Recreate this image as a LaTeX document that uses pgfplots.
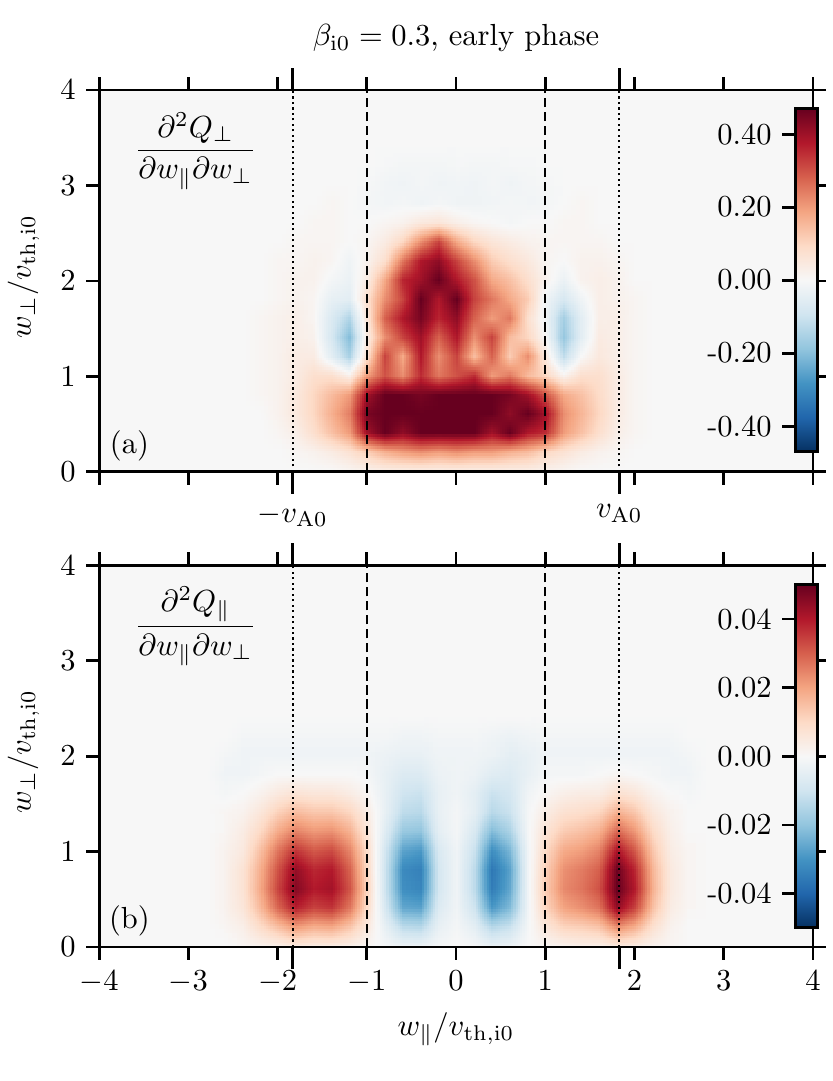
\documentclass[border=0pt]{standalone}
\usepackage{pgfplots}
\pgfplotsset{compat=1.18}
\usepgfplotslibrary{patchplots}
\pgfplotsset{colormap={rdbu}{rgb255=(5,48,97) rgb255=(33,102,172) rgb255=(67,147,195) rgb255=(146,197,222) rgb255=(209,229,240) rgb255=(247,247,247) rgb255=(253,219,199) rgb255=(244,165,130) rgb255=(214,96,77) rgb255=(178,24,43) rgb255=(103,0,31)}}
\definecolor{bgzero}{RGB}{247,247,247}
\pgfplotsset{
  panel/.style={
    width=234pt, height=125.2pt, scale only axis,
    xmin=-4, xmax=4, ymin=0, ymax=4,
    enlargelimits=false,
    xtick={-4,-3,-2,-1,0,1,2,3,4},
    ytick={0,1,2,3,4},
    tick pos=both, tick align=outside,
    major tick length=4.2pt,
    every tick/.style={black, line width=0.9pt},
    axis line style={line width=0.9pt},
    axis background/.style={fill=bgzero},
    axis on top,
    colormap name=rdbu,
    ylabel={$w_\perp/v_{\mathrm{th,i0}}$},
    ylabel style={xshift=1.5pt},
    extra x ticks={-1.83,1.83},
    extra x tick style={major tick length=7.2pt},
    colorbar,
  },
  cbar/.style={at={(parent axis.south west)}, anchor=south west,
    xshift=219.7pt, width=7.2pt, height=112.5pt, scale only axis,
    scaled y ticks=false,
    ytick pos=left, yticklabel pos=left, tick align=outside, major tick length=4.2pt,
    every tick/.style={black, line width=0.9pt},
    axis line style={line width=1pt}},
  dashv/.style={black, line width=0.7pt, dash pattern=on 3pt off 1.6pt},
  dotv/.style={black, line width=0.7pt, dash pattern=on 0.7pt off 1.1pt},
}
\begin{document}
\begin{tikzpicture}
\path[use as bounding box] (0,0) rectangle (272.8pt,354.4pt);
% ---------------- panel (a)
\begin{axis}[panel, name=top, at={(32.5pt,199.7pt)}, anchor=south west,
  xticklabels={},
  extra x tick labels={$-v_{\mathrm{A0}}$,$v_{\mathrm{A0}}$},
  point meta min=-0.47, point meta max=0.47,
  colorbar style={cbar, yshift=6.6pt,
    ytick={-0.4,-0.2,0,0.2,0.4}, yticklabels={-0.40,-0.20,0.00,0.20,0.40}},
]
\addplot[surf, shader=interp, patch type=bilinear, mesh/cols=25, point meta=explicit] coordinates {
(-2.4,0)[0] (-2.2,0)[0] (-2.0,0)[0] (-1.8,0)[0] (-1.6,0)[0] (-1.4,0)[0] (-1.2,0)[0.01] (-1.0,0)[0.02] (-0.8,0)[0.03] (-0.6,0)[0.03] (-0.4,0)[0.03] (-0.2,0)[0.03] (0,0)[0.03] (0.2,0)[0.03] (0.4,0)[0.03] (0.6,0)[0.03] (0.8,0)[0.03] (1.0,0)[0.02] (1.2,0)[0.01] (1.4,0)[0] (1.6,0)[0] (1.8,0)[0] (2.0,0)[0] (2.2,0)[0] (2.4,0)[0]

(-2.4,0.2)[0] (-2.2,0.2)[0] (-2.0,0.2)[0] (-1.8,0.2)[0.01] (-1.6,0.2)[0.02] (-1.4,0.2)[0.04] (-1.2,0.2)[0.07] (-1.0,0.2)[0.12] (-0.8,0.2)[0.17] (-0.6,0.2)[0.2] (-0.4,0.2)[0.22] (-0.2,0.2)[0.2] (0,0.2)[0.22] (0.2,0.2)[0.2] (0.4,0.2)[0.2] (0.6,0.2)[0.17] (0.8,0.2)[0.15] (1.0,0.2)[0.1] (1.2,0.2)[0.07] (1.4,0.2)[0.04] (1.6,0.2)[0.02] (1.8,0.2)[0.01] (2.0,0.2)[0] (2.2,0.2)[0] (2.4,0.2)[0]

(-2.4,0.4)[0] (-2.2,0.4)[0] (-2.0,0.4)[0.01] (-1.8,0.4)[0.03] (-1.6,0.4)[0.08] (-1.4,0.4)[0.14] (-1.2,0.4)[0.2] (-1.0,0.4)[0.4] (-0.8,0.4)[0.5] (-0.6,0.4)[0.42] (-0.4,0.4)[0.6] (-0.2,0.4)[0.48] (0,0.4)[0.6] (0.2,0.4)[0.5] (0.4,0.4)[0.4] (0.6,0.4)[0.5] (0.8,0.4)[0.38] (1.0,0.4)[0.35] (1.2,0.4)[0.2] (1.4,0.4)[0.14] (1.6,0.4)[0.08] (1.8,0.4)[0.03] (2.0,0.4)[0.01] (2.2,0.4)[0] (2.4,0.4)[0]

(-2.4,0.6)[0] (-2.2,0.6)[0] (-2.0,0.6)[0.02] (-1.8,0.6)[0.05] (-1.6,0.6)[0.1] (-1.4,0.6)[0.17] (-1.2,0.6)[0.24] (-1.0,0.6)[0.45] (-0.8,0.6)[0.6] (-0.6,0.6)[0.5] (-0.4,0.6)[0.65] (-0.2,0.6)[0.55] (0,0.6)[0.6] (0.2,0.6)[0.65] (0.4,0.6)[0.5] (0.6,0.6)[0.42] (0.8,0.6)[0.55] (1.0,0.6)[0.4] (1.2,0.6)[0.22] (1.4,0.6)[0.16] (1.6,0.6)[0.1] (1.8,0.6)[0.04] (2.0,0.6)[0.01] (2.2,0.6)[0] (2.4,0.6)[0]

(-2.4,0.8)[0] (-2.2,0.8)[0.01] (-2.0,0.8)[0.02] (-1.8,0.8)[0.05] (-1.6,0.8)[0.1] (-1.4,0.8)[0.15] (-1.2,0.8)[0.2] (-1.0,0.8)[0.4] (-0.8,0.8)[0.5] (-0.6,0.8)[0.6] (-0.4,0.8)[0.45] (-0.2,0.8)[0.6] (0,0.8)[0.5] (0.2,0.8)[0.55] (0.4,0.8)[0.6] (0.6,0.8)[0.45] (0.8,0.8)[0.4] (1.0,0.8)[0.3] (1.2,0.8)[0.18] (1.4,0.8)[0.14] (1.6,0.8)[0.09] (1.8,0.8)[0.04] (2.0,0.8)[0.01] (2.2,0.8)[0] (2.4,0.8)[0]

(-2.4,1.0)[0] (-2.2,1.0)[0.01] (-2.0,1.0)[0.02] (-1.8,1.0)[0.04] (-1.6,1.0)[0.08] (-1.4,1.0)[0.08] (-1.2,1.0)[0.03] (-1.0,1.0)[0.2] (-0.8,1.0)[0.3] (-0.6,1.0)[0.22] (-0.4,1.0)[0.35] (-0.2,1.0)[0.25] (0,1.0)[0.3] (0.2,1.0)[0.35] (0.4,1.0)[0.2] (0.6,1.0)[0.25] (0.8,1.0)[0.15] (1.0,1.0)[0.1] (1.2,1.0)[0.02] (1.4,1.0)[0.08] (1.6,1.0)[0.08] (1.8,1.0)[0.04] (2.0,1.0)[0.01] (2.2,1.0)[0] (2.4,1.0)[0]

(-2.4,1.2)[0] (-2.2,1.2)[0.01] (-2.0,1.2)[0.02] (-1.8,1.2)[0.04] (-1.6,1.2)[0.04] (-1.4,1.2)[-0.05] (-1.2,1.2)[-0.15] (-1.0,1.2)[0.08] (-0.8,1.2)[0.32] (-0.6,1.2)[0.18] (-0.4,1.2)[0.38] (-0.2,1.2)[0.22] (0,1.2)[0.32] (0.2,1.2)[0.15] (0.4,1.2)[0.28] (0.6,1.2)[0.12] (0.8,1.2)[0.22] (1.0,1.2)[0.05] (1.2,1.2)[-0.12] (1.4,1.2)[0.0] (1.6,1.2)[0.05] (1.8,1.2)[0.03] (2.0,1.2)[0.01] (2.2,1.2)[0] (2.4,1.2)[0]

(-2.4,1.4)[0] (-2.2,1.4)[0.01] (-2.0,1.4)[0.02] (-1.8,1.4)[0.03] (-1.6,1.4)[0.02] (-1.4,1.4)[-0.08] (-1.2,1.4)[-0.2] (-1.0,1.4)[0.04] (-0.8,1.4)[0.22] (-0.6,1.4)[0.32] (-0.4,1.4)[0.4] (-0.2,1.4)[0.28] (0,1.4)[0.38] (0.2,1.4)[0.22] (0.4,1.4)[0.32] (0.6,1.4)[0.15] (0.8,1.4)[0.1] (1.0,1.4)[0.0] (1.2,1.4)[-0.18] (1.4,1.4)[-0.05] (1.6,1.4)[0.04] (1.8,1.4)[0.03] (2.0,1.4)[0.01] (2.2,1.4)[0] (2.4,1.4)[0]

(-2.4,1.6)[0] (-2.2,1.6)[0.01] (-2.0,1.6)[0.02] (-1.8,1.6)[0.03] (-1.6,1.6)[0.01] (-1.4,1.6)[-0.07] (-1.2,1.6)[-0.14] (-1.0,1.6)[0.06] (-0.8,1.6)[0.28] (-0.6,1.6)[0.38] (-0.4,1.6)[0.45] (-0.2,1.6)[0.36] (0,1.6)[0.42] (0.2,1.6)[0.28] (0.4,1.6)[0.2] (0.6,1.6)[0.25] (0.8,1.6)[0.08] (1.0,1.6)[-0.02] (1.2,1.6)[-0.16] (1.4,1.6)[-0.05] (1.6,1.6)[0.03] (1.8,1.6)[0.03] (2.0,1.6)[0.01] (2.2,1.6)[0] (2.4,1.6)[0]

(-2.4,1.8)[0] (-2.2,1.8)[0] (-2.0,1.8)[0.01] (-1.8,1.8)[0.02] (-1.6,1.8)[0.01] (-1.4,1.8)[-0.04] (-1.2,1.8)[-0.05] (-1.0,1.8)[0.08] (-0.8,1.8)[0.22] (-0.6,1.8)[0.32] (-0.4,1.8)[0.48] (-0.2,1.8)[0.38] (0,1.8)[0.52] (0.2,1.8)[0.32] (0.4,1.8)[0.25] (0.6,1.8)[0.18] (0.8,1.8)[0.12] (1.0,1.8)[-0.02] (1.2,1.8)[-0.08] (1.4,1.8)[-0.02] (1.6,1.8)[0.03] (1.8,1.8)[0.02] (2.0,1.8)[0.01] (2.2,1.8)[0] (2.4,1.8)[0]

(-2.4,2.0)[0] (-2.2,2.0)[0] (-2.0,2.0)[0.01] (-1.8,2.0)[0.02] (-1.6,2.0)[0.02] (-1.4,2.0)[-0.01] (-1.2,2.0)[-0.03] (-1.0,2.0)[0.04] (-0.8,2.0)[0.18] (-0.6,2.0)[0.36] (-0.4,2.0)[0.4] (-0.2,2.0)[0.5] (0,2.0)[0.38] (0.2,2.0)[0.3] (0.4,2.0)[0.18] (0.6,2.0)[0.14] (0.8,2.0)[0.08] (1.0,2.0)[0.02] (1.2,2.0)[-0.03] (1.4,2.0)[0.02] (1.6,2.0)[0.03] (1.8,2.0)[0.02] (2.0,2.0)[0] (2.2,2.0)[0] (2.4,2.0)[0]

(-2.4,2.2)[0] (-2.2,2.2)[0] (-2.0,2.2)[0.01] (-1.8,2.2)[0.01] (-1.6,2.2)[0.02] (-1.4,2.2)[0.01] (-1.2,2.2)[-0.02] (-1.0,2.2)[0.02] (-0.8,2.2)[0.08] (-0.6,2.2)[0.25] (-0.4,2.2)[0.38] (-0.2,2.2)[0.42] (0,2.2)[0.32] (0.2,2.2)[0.22] (0.4,2.2)[0.12] (0.6,2.2)[0.08] (0.8,2.2)[0.05] (1.0,2.2)[0.01] (1.2,2.2)[0] (1.4,2.2)[0.02] (1.6,2.2)[0.02] (1.8,2.2)[0.01] (2.0,2.2)[0] (2.2,2.2)[0] (2.4,2.2)[0]

(-2.4,2.4)[0] (-2.2,2.4)[0] (-2.0,2.4)[0] (-1.8,2.4)[0.01] (-1.6,2.4)[0.01] (-1.4,2.4)[0.01] (-1.2,2.4)[0] (-1.0,2.4)[0.01] (-0.8,2.4)[0.04] (-0.6,2.4)[0.1] (-0.4,2.4)[0.22] (-0.2,2.4)[0.32] (0,2.4)[0.18] (0.2,2.4)[0.1] (0.4,2.4)[0.06] (0.6,2.4)[0.04] (0.8,2.4)[0.02] (1.0,2.4)[0.01] (1.2,2.4)[0.01] (1.4,2.4)[0.01] (1.6,2.4)[0.01] (1.8,2.4)[0] (2.0,2.4)[0] (2.2,2.4)[0] (2.4,2.4)[0]

(-2.4,2.6)[0] (-2.2,2.6)[0] (-2.0,2.6)[0] (-1.8,2.6)[0] (-1.6,2.6)[0.01] (-1.4,2.6)[0.01] (-1.2,2.6)[0] (-1.0,2.6)[0] (-0.8,2.6)[0.01] (-0.6,2.6)[0.02] (-0.4,2.6)[0.05] (-0.2,2.6)[0.06] (0,2.6)[0.03] (0.2,2.6)[0.01] (0.4,2.6)[0] (0.6,2.6)[-0.01] (0.8,2.6)[0] (1.0,2.6)[0] (1.2,2.6)[0.01] (1.4,2.6)[0.01] (1.6,2.6)[0] (1.8,2.6)[0] (2.0,2.6)[0] (2.2,2.6)[0] (2.4,2.6)[0]

(-2.4,2.8)[0] (-2.2,2.8)[0] (-2.0,2.8)[0] (-1.8,2.8)[0] (-1.6,2.8)[0] (-1.4,2.8)[0.01] (-1.2,2.8)[0] (-1.0,2.8)[-0.01] (-0.8,2.8)[-0.015] (-0.6,2.8)[-0.01] (-0.4,2.8)[-0.02] (-0.2,2.8)[-0.01] (0,2.8)[-0.02] (0.2,2.8)[-0.02] (0.4,2.8)[-0.015] (0.6,2.8)[-0.01] (0.8,2.8)[-0.015] (1.0,2.8)[-0.01] (1.2,2.8)[0] (1.4,2.8)[0.01] (1.6,2.8)[0] (1.8,2.8)[0] (2.0,2.8)[0] (2.2,2.8)[0] (2.4,2.8)[0]

(-2.4,3.0)[0] (-2.2,3.0)[0] (-2.0,3.0)[0] (-1.8,3.0)[0] (-1.6,3.0)[0] (-1.4,3.0)[0] (-1.2,3.0)[0] (-1.0,3.0)[-0.005] (-0.8,3.0)[-0.015] (-0.6,3.0)[-0.02] (-0.4,3.0)[-0.01] (-0.2,3.0)[-0.02] (0,3.0)[-0.015] (0.2,3.0)[-0.02] (0.4,3.0)[-0.01] (0.6,3.0)[-0.02] (0.8,3.0)[-0.01] (1.0,3.0)[-0.005] (1.2,3.0)[0] (1.4,3.0)[0] (1.6,3.0)[0] (1.8,3.0)[0] (2.0,3.0)[0] (2.2,3.0)[0] (2.4,3.0)[0]

(-2.4,3.2)[0] (-2.2,3.2)[0] (-2.0,3.2)[0] (-1.8,3.2)[0] (-1.6,3.2)[0] (-1.4,3.2)[0] (-1.2,3.2)[0] (-1.0,3.2)[0] (-0.8,3.2)[-0.005] (-0.6,3.2)[-0.01] (-0.4,3.2)[-0.01] (-0.2,3.2)[-0.01] (0,3.2)[-0.005] (0.2,3.2)[-0.01] (0.4,3.2)[-0.01] (0.6,3.2)[-0.005] (0.8,3.2)[-0.005] (1.0,3.2)[0] (1.2,3.2)[0] (1.4,3.2)[0] (1.6,3.2)[0] (1.8,3.2)[0] (2.0,3.2)[0] (2.2,3.2)[0] (2.4,3.2)[0]

(-2.4,3.4)[0] (-2.2,3.4)[0] (-2.0,3.4)[0] (-1.8,3.4)[0] (-1.6,3.4)[0] (-1.4,3.4)[0] (-1.2,3.4)[0] (-1.0,3.4)[0] (-0.8,3.4)[0] (-0.6,3.4)[0] (-0.4,3.4)[0] (-0.2,3.4)[0] (0,3.4)[0] (0.2,3.4)[0] (0.4,3.4)[0] (0.6,3.4)[0] (0.8,3.4)[0] (1.0,3.4)[0] (1.2,3.4)[0] (1.4,3.4)[0] (1.6,3.4)[0] (1.8,3.4)[0] (2.0,3.4)[0] (2.2,3.4)[0] (2.4,3.4)[0]
};
\addplot[dotv] coordinates {(-1.83,0) (-1.83,4)};
\addplot[dotv] coordinates {(1.83,0) (1.83,4)};
\addplot[dashv] coordinates {(-1,0) (-1,4)};
\addplot[dashv] coordinates {(1,0) (1,4)};
\node at (axis cs:-2.92,3.36) {$\displaystyle\frac{\partial^2 Q_\perp}{\partial w_\parallel\partial w_\perp}$};
\node at (axis cs:-3.66,0.27) {(a)};
\end{axis}
% ---------------- panel (b)
\begin{axis}[panel, name=bot, at={(32.5pt,43.9pt)}, anchor=south west,
  xlabel={$w_\parallel/v_{\mathrm{th,i0}}$},
  xlabel style={at={(axis description cs:0.5,0)}, anchor=center, yshift=-27pt},
  extra x tick labels={},
  point meta min=-0.05, point meta max=0.05,
  colorbar style={cbar, yshift=6.3pt,
    ytick={-0.04,-0.02,0,0.02,0.04}, yticklabels={-0.04,-0.02,0.00,0.02,0.04}},
]
\addplot[surf, shader=interp, patch type=bilinear, mesh/cols=29, point meta=explicit] coordinates {
(-2.8,0)[0] (-2.6,0)[0] (-2.4,0)[0.001] (-2.2,0)[0.002] (-2.0,0)[0.003] (-1.8,0)[0.005] (-1.6,0)[0.004] (-1.4,0)[0.004] (-1.2,0)[0.003] (-1.0,0)[0.001] (-0.8,0)[-0.001] (-0.6,0)[-0.003] (-0.4,0)[-0.003] (-0.2,0)[-0.001] (0,0)[0] (0.2,0)[-0.001] (0.4,0)[-0.004] (0.6,0)[-0.003] (0.8,0)[0] (1.0,0)[0.001] (1.2,0)[0.002] (1.4,0)[0.003] (1.6,0)[0.003] (1.8,0)[0.005] (2.0,0)[0.004] (2.2,0)[0.002] (2.4,0)[0.001] (2.6,0)[0] (2.8,0)[0]

(-2.8,0.2)[0] (-2.6,0.2)[0.001] (-2.4,0.2)[0.003] (-2.2,0.2)[0.009] (-2.0,0.2)[0.015] (-1.8,0.2)[0.021] (-1.6,0.2)[0.018] (-1.4,0.2)[0.019] (-1.2,0.2)[0.014] (-1.0,0.2)[0.005] (-0.8,0.2)[-0.004] (-0.6,0.2)[-0.013] (-0.4,0.2)[-0.014] (-0.2,0.2)[-0.004] (0,0.2)[-0.001] (0.2,0.2)[-0.005] (0.4,0.2)[-0.014] (0.6,0.2)[-0.011] (0.8,0.2)[-0.001] (1.0,0.2)[0.006] (1.2,0.2)[0.011] (1.4,0.2)[0.012] (1.6,0.2)[0.014] (1.8,0.2)[0.023] (2.0,0.2)[0.018] (2.2,0.2)[0.008] (2.4,0.2)[0.002] (2.6,0.2)[0] (2.8,0.2)[0]

(-2.8,0.4)[0] (-2.6,0.4)[0.002] (-2.4,0.4)[0.006] (-2.2,0.4)[0.016] (-2.0,0.4)[0.029] (-1.8,0.4)[0.039] (-1.6,0.4)[0.034] (-1.4,0.4)[0.036] (-1.2,0.4)[0.027] (-1.0,0.4)[0.009] (-0.8,0.4)[-0.008] (-0.6,0.4)[-0.026] (-0.4,0.4)[-0.027] (-0.2,0.4)[-0.007] (0,0.4)[-0.002] (0.2,0.4)[-0.010] (0.4,0.4)[-0.029] (0.6,0.4)[-0.022] (0.8,0.4)[-0.002] (1.0,0.4)[0.011] (1.2,0.4)[0.020] (1.4,0.4)[0.023] (1.6,0.4)[0.027] (1.8,0.4)[0.044] (2.0,0.4)[0.034] (2.2,0.4)[0.015] (2.4,0.4)[0.004] (2.6,0.4)[0.001] (2.8,0.4)[0]

(-2.8,0.6)[0] (-2.6,0.6)[0.002] (-2.4,0.6)[0.007] (-2.2,0.6)[0.019] (-2.0,0.6)[0.034] (-1.8,0.6)[0.046] (-1.6,0.6)[0.040] (-1.4,0.6)[0.042] (-1.2,0.6)[0.032] (-1.0,0.6)[0.011] (-0.8,0.6)[-0.010] (-0.6,0.6)[-0.031] (-0.4,0.6)[-0.033] (-0.2,0.6)[-0.009] (0,0.6)[-0.002] (0.2,0.6)[-0.013] (0.4,0.6)[-0.035] (0.6,0.6)[-0.026] (0.8,0.6)[-0.002] (1.0,0.6)[0.013] (1.2,0.6)[0.024] (1.4,0.6)[0.027] (1.6,0.6)[0.032] (1.8,0.6)[0.052] (2.0,0.6)[0.040] (2.2,0.6)[0.018] (2.4,0.6)[0.005] (2.6,0.6)[0.001] (2.8,0.6)[0]

(-2.8,0.8)[0] (-2.6,0.8)[0.002] (-2.4,0.8)[0.007] (-2.2,0.8)[0.018] (-2.0,0.8)[0.032] (-1.8,0.8)[0.044] (-1.6,0.8)[0.038] (-1.4,0.8)[0.040] (-1.2,0.8)[0.030] (-1.0,0.8)[0.010] (-0.8,0.8)[-0.010] (-0.6,0.8)[-0.032] (-0.4,0.8)[-0.034] (-0.2,0.8)[-0.009] (0,0.8)[-0.002] (0.2,0.8)[-0.013] (0.4,0.8)[-0.036] (0.6,0.8)[-0.027] (0.8,0.8)[-0.002] (1.0,0.8)[0.012] (1.2,0.8)[0.023] (1.4,0.8)[0.026] (1.6,0.8)[0.030] (1.8,0.8)[0.049] (2.0,0.8)[0.038] (2.2,0.8)[0.017] (2.4,0.8)[0.005] (2.6,0.8)[0.001] (2.8,0.8)[0]

(-2.8,1.0)[0] (-2.6,1.0)[0.002] (-2.4,1.0)[0.005] (-2.2,1.0)[0.015] (-2.0,1.0)[0.027] (-1.8,1.0)[0.036] (-1.6,1.0)[0.031] (-1.4,1.0)[0.033] (-1.2,1.0)[0.025] (-1.0,1.0)[0.009] (-0.8,1.0)[-0.009] (-0.6,1.0)[-0.027] (-0.4,1.0)[-0.029] (-0.2,1.0)[-0.008] (0,1.0)[-0.002] (0.2,1.0)[-0.011] (0.4,1.0)[-0.031] (0.6,1.0)[-0.023] (0.8,1.0)[-0.002] (1.0,1.0)[0.010] (1.2,1.0)[0.019] (1.4,1.0)[0.021] (1.6,1.0)[0.025] (1.8,1.0)[0.041] (2.0,1.0)[0.031] (2.2,1.0)[0.014] (2.4,1.0)[0.004] (2.6,1.0)[0.001] (2.8,1.0)[0]

(-2.8,1.2)[0] (-2.6,1.2)[0.001] (-2.4,1.2)[0.004] (-2.2,1.2)[0.010] (-2.0,1.2)[0.019] (-1.8,1.2)[0.025] (-1.6,1.2)[0.022] (-1.4,1.2)[0.023] (-1.2,1.2)[0.018] (-1.0,1.2)[0.006] (-0.8,1.2)[-0.006] (-0.6,1.2)[-0.019] (-0.4,1.2)[-0.020] (-0.2,1.2)[-0.005] (0,1.2)[-0.001] (0.2,1.2)[-0.008] (0.4,1.2)[-0.022] (0.6,1.2)[-0.016] (0.8,1.2)[-0.001] (1.0,1.2)[0.007] (1.2,1.2)[0.013] (1.4,1.2)[0.015] (1.6,1.2)[0.018] (1.8,1.2)[0.029] (2.0,1.2)[0.022] (2.2,1.2)[0.010] (2.4,1.2)[0.003] (2.6,1.2)[0] (2.8,1.2)[0]

(-2.8,1.4)[0] (-2.6,1.4)[0.001] (-2.4,1.4)[0.002] (-2.2,1.4)[0.006] (-2.0,1.4)[0.012] (-1.8,1.4)[0.016] (-1.6,1.4)[0.014] (-1.4,1.4)[0.014] (-1.2,1.4)[0.011] (-1.0,1.4)[0.004] (-0.8,1.4)[-0.004] (-0.6,1.4)[-0.013] (-0.4,1.4)[-0.014] (-0.2,1.4)[-0.004] (0,1.4)[-0.001] (0.2,1.4)[-0.005] (0.4,1.4)[-0.014] (0.6,1.4)[-0.011] (0.8,1.4)[-0.001] (1.0,1.4)[0.004] (1.2,1.4)[0.008] (1.4,1.4)[0.009] (1.6,1.4)[0.011] (1.8,1.4)[0.018] (2.0,1.4)[0.014] (2.2,1.4)[0.006] (2.4,1.4)[0.002] (2.6,1.4)[0] (2.8,1.4)[0]

(-2.8,1.6)[0] (-2.6,1.6)[-0.001] (-2.4,1.6)[0] (-2.2,1.6)[0.002] (-2.0,1.6)[0.005] (-1.8,1.6)[0.007] (-1.6,1.6)[0.006] (-1.4,1.6)[0.006] (-1.2,1.6)[0.004] (-1.0,1.6)[0.001] (-0.8,1.6)[-0.004] (-0.6,1.6)[-0.010] (-0.4,1.6)[-0.011] (-0.2,1.6)[-0.004] (0,1.6)[-0.002] (0.2,1.6)[-0.005] (0.4,1.6)[-0.011] (0.6,1.6)[-0.009] (0.8,1.6)[-0.002] (1.0,1.6)[0.001] (1.2,1.6)[0.003] (1.4,1.6)[0.004] (1.6,1.6)[0.004] (1.8,1.6)[0.008] (2.0,1.6)[0.006] (2.2,1.6)[0.002] (2.4,1.6)[0] (2.6,1.6)[-0.001] (2.8,1.6)[0]

(-2.8,1.8)[0] (-2.6,1.8)[-0.002] (-2.4,1.8)[-0.002] (-2.2,1.8)[-0.001] (-2.0,1.8)[0] (-1.8,1.8)[0] (-1.6,1.8)[0] (-1.4,1.8)[0] (-1.2,1.8)[0] (-1.0,1.8)[-0.001] (-0.8,1.8)[-0.004] (-0.6,1.8)[-0.007] (-0.4,1.8)[-0.007] (-0.2,1.8)[-0.003] (0,1.8)[-0.002] (0.2,1.8)[-0.003] (0.4,1.8)[-0.006] (0.6,1.8)[-0.007] (0.8,1.8)[-0.004] (1.0,1.8)[-0.001] (1.2,1.8)[-0.001] (1.4,1.8)[-0.001] (1.6,1.8)[0] (1.8,1.8)[0.001] (2.0,1.8)[0] (2.2,1.8)[-0.001] (2.4,1.8)[-0.002] (2.6,1.8)[-0.002] (2.8,1.8)[0]

(-2.8,2.0)[0] (-2.6,2.0)[-0.001] (-2.4,2.0)[-0.002] (-2.2,2.0)[-0.002] (-2.0,2.0)[-0.002] (-1.8,2.0)[-0.002] (-1.6,2.0)[-0.002] (-1.4,2.0)[-0.002] (-1.2,2.0)[-0.002] (-1.0,2.0)[-0.002] (-0.8,2.0)[-0.003] (-0.6,2.0)[-0.004] (-0.4,2.0)[-0.004] (-0.2,2.0)[-0.002] (0,2.0)[-0.002] (0.2,2.0)[-0.002] (0.4,2.0)[-0.003] (0.6,2.0)[-0.005] (0.8,2.0)[-0.004] (1.0,2.0)[-0.002] (1.2,2.0)[-0.002] (1.4,2.0)[-0.002] (1.6,2.0)[-0.002] (1.8,2.0)[-0.002] (2.0,2.0)[-0.002] (2.2,2.0)[-0.002] (2.4,2.0)[-0.002] (2.6,2.0)[-0.001] (2.8,2.0)[0]

(-2.8,2.2)[0] (-2.6,2.2)[0] (-2.4,2.2)[-0.001] (-2.2,2.2)[-0.001] (-2.0,2.2)[-0.001] (-1.8,2.2)[-0.001] (-1.6,2.2)[-0.001] (-1.4,2.2)[-0.001] (-1.2,2.2)[-0.001] (-1.0,2.2)[-0.001] (-0.8,2.2)[-0.001] (-0.6,2.2)[-0.002] (-0.4,2.2)[-0.002] (-0.2,2.2)[-0.001] (0,2.2)[-0.001] (0.2,2.2)[-0.001] (0.4,2.2)[-0.002] (0.6,2.2)[-0.003] (0.8,2.2)[-0.002] (1.0,2.2)[-0.001] (1.2,2.2)[-0.001] (1.4,2.2)[-0.001] (1.6,2.2)[-0.001] (1.8,2.2)[-0.001] (2.0,2.2)[-0.001] (2.2,2.2)[-0.001] (2.4,2.2)[-0.001] (2.6,2.2)[0] (2.8,2.2)[0]

(-2.8,2.4)[0] (-2.6,2.4)[0] (-2.4,2.4)[0] (-2.2,2.4)[0] (-2.0,2.4)[0] (-1.8,2.4)[0] (-1.6,2.4)[0] (-1.4,2.4)[0] (-1.2,2.4)[0] (-1.0,2.4)[0] (-0.8,2.4)[0] (-0.6,2.4)[0] (-0.4,2.4)[0] (-0.2,2.4)[0] (0,2.4)[0] (0.2,2.4)[0] (0.4,2.4)[0] (0.6,2.4)[0] (0.8,2.4)[0] (1.0,2.4)[0] (1.2,2.4)[0] (1.4,2.4)[0] (1.6,2.4)[0] (1.8,2.4)[0] (2.0,2.4)[0] (2.2,2.4)[0] (2.4,2.4)[0] (2.6,2.4)[0] (2.8,2.4)[0]
};
\addplot[dotv] coordinates {(-1.83,0) (-1.83,4)};
\addplot[dotv] coordinates {(1.83,0) (1.83,4)};
\addplot[dashv] coordinates {(-1,0) (-1,4)};
\addplot[dashv] coordinates {(1,0) (1,4)};
\node at (axis cs:-2.92,3.36) {$\displaystyle\frac{\partial^2 Q_\parallel}{\partial w_\parallel\partial w_\perp}$};
\node at (axis cs:-3.66,0.27) {(b)};
\end{axis}
\node at ([yshift=17pt]top.north) {$\beta_{\mathrm{i0}}=0.3$, early phase};
\end{tikzpicture}
\end{document}
